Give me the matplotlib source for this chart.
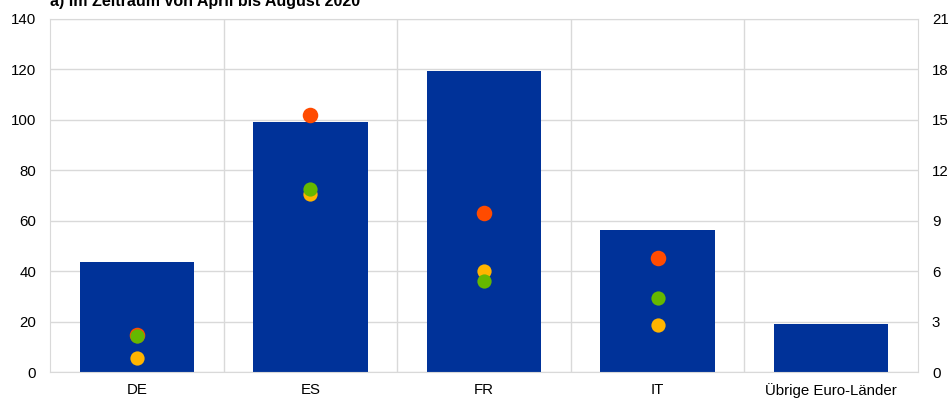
import numpy as np
import matplotlib.pyplot as plt

plt.rcParams['font.family'] = ['Liberation Sans', 'DejaVu Sans']

# ----------------- Data -----------------
categories = ["DE", "ES", "FR", "IT", "Übrige Euro-Länder"]
bar_values = [43.5, 99, 119.3, 56.2, 19.2]          # left axis
dot_red = [2.2, 15.3, 9.45, 6.8]                     # right axis
dot_yellow = [0.85, 10.6, 6.0, 2.8]
dot_green = [2.15, 10.9, 5.4, 4.4]
dot_cats = categories[:4]

left_ticks = [0, 20, 40, 60, 80, 100, 120, 140]
right_ticks = [0, 3, 6, 9, 12, 15, 18, 21]

# ----------------- Colours -----------------
blue = "#003299"
red = "#FF4B00"
yellow = "#FFB400"
green = "#65B800"
grid_col = "#d9d9d9"

fig = plt.figure(figsize=(9.51, 3.98), dpi=100)
ax = fig.add_axes([50 / 951, 26 / 398, 868 / 951, 353 / 398])

x = np.arange(len(categories))
ax.bar(x, bar_values, width=0.66, color=blue, zorder=2)
ax.set_xlim(-0.5, len(categories) - 0.5)
ax.set_ylim(0, 140)
ax.set_yticks(left_ticks)
ax.set_xticks(x)
ax.set_xticklabels(categories)
ax.set_xticks(np.arange(0.5, len(categories) - 0.5, 1), minor=True)
ax.grid(axis="y", color=grid_col, linewidth=1, zorder=0)
ax.grid(axis="x", which="minor", color=grid_col, linewidth=1, zorder=0)
ax.grid(axis="x", which="major", visible=False)
ax.tick_params(which="both", length=0, labelsize=10.8, colors="black")
ax.tick_params(axis="x", pad=8)
ax.tick_params(axis="y", pad=10)
for s in ax.spines.values():
    s.set_color(grid_col)

ax2 = ax.twinx()
ax2.set_ylim(0, 21)
ax2.set_yticks(right_ticks)
ax2.tick_params(length=0, labelsize=10.8, pad=10)
for s in ax2.spines.values():
    s.set_visible(False)

xd = np.arange(len(dot_cats))
ax2.scatter(xd, dot_red, s=125, color=red, zorder=3, linewidths=0)
ax2.scatter(xd, dot_yellow, s=105, color=yellow, zorder=4, linewidths=0)
ax2.scatter(xd, dot_green, s=105, color=green, zorder=5, linewidths=0)

fig.text(50 / 951, (398 - 6) / 398, "a) Im Zeitraum von April bis August 2020",
         fontsize=11.5, fontweight="bold", ha="left", va="baseline")

fig.savefig("out.png", dpi=100)
